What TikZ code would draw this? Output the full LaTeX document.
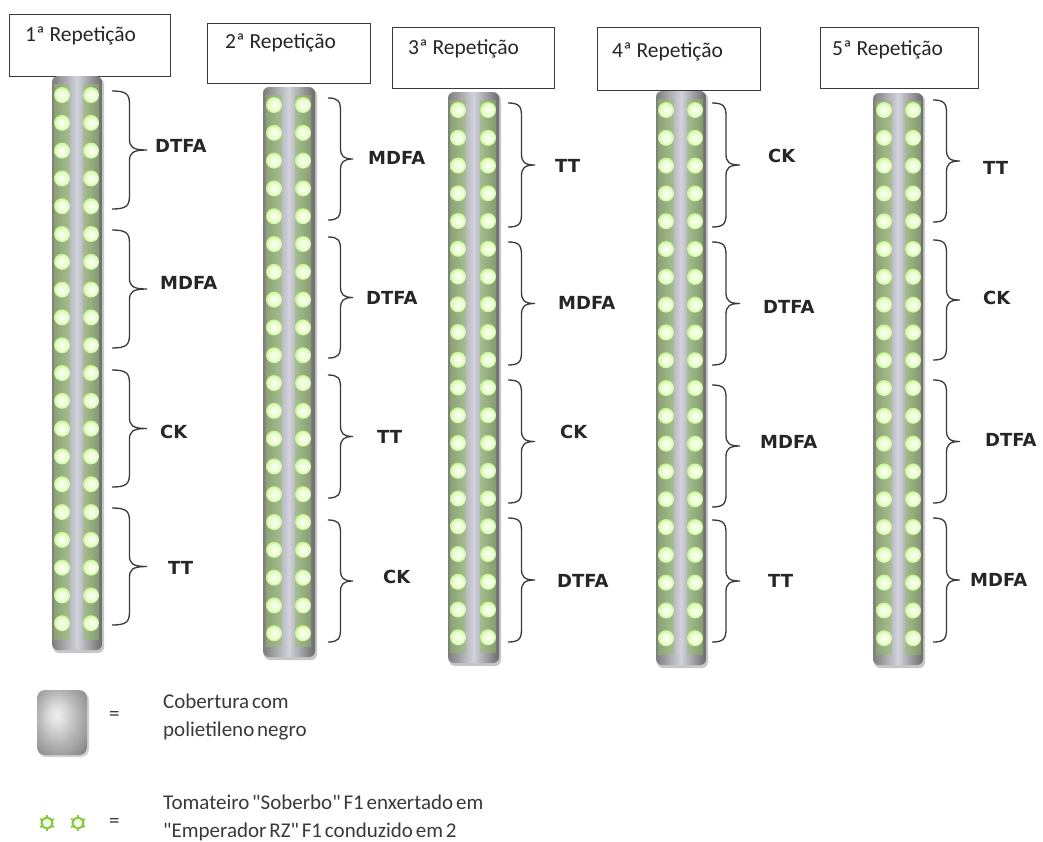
\documentclass[tikz,border=0pt]{standalone}
\usepackage{fontspec}
\setmainfont{Carlito}
\newfontfamily\lblfont{DejaVu Sans}
\newfontfamily\legfont[WordSpace=0.6]{Carlito}
\definecolor{dotA}{HTML}{FBFFF6}
\definecolor{dotB}{HTML}{EAFFD2}
\definecolor{dotC}{HTML}{C0F080}
\definecolor{dotD}{HTML}{96D056}
\definecolor{dotE}{HTML}{8DB872}
\definecolor{bandgreen}{HTML}{92C262}
\definecolor{stripL}{HTML}{7E7E7E}
\definecolor{stripM}{HTML}{D2D2DC}
\definecolor{stripR}{HTML}{6A6A6A}
\definecolor{penc}{HTML}{3A3A3A}
\definecolor{txtc}{HTML}{262626}
\definecolor{legc}{HTML}{3C3838}
\definecolor{iconc}{HTML}{8CC63F}
\pgfdeclareradialshading{plant}{\pgfpoint{0bp}{0bp}}{color(0bp)=(dotA); color(16bp)=(dotB); color(28bp)=(dotC); color(40bp)=(dotD); color(50bp)=(dotE)}
\pgfdeclareradialshading{cover}{\pgfpoint{-6bp}{6bp}}{color(0bp)=(gray!12); color(9bp)=(gray!30); color(20bp)=(gray!58); color(30bp)=(gray!80); color(42bp)=(gray!80!black); color(60bp)=(gray!60!black)}
\tikzset{
  hbox/.style={draw=penc, line width=1.4pt, fill=white, inner sep=0pt, anchor=north west},
  htext/.style={anchor=west, inner sep=0pt, text=txtc, font=\fontsize{21.5}{24}\selectfont},
  lbl/.style={anchor=west, inner sep=0pt, text=txtc, font=\lblfont\bfseries\fontsize{18}{20}\selectfont},
  bracepen/.style={draw=penc, line width=1.3pt},
  legtext/.style={anchor=west, inner sep=0pt, align=left, text=legc, font=\legfont\fontsize{21}{28}\selectfont},
}
% strip: xl, xr, top, bot, dot x1, dot x2, first row, step
\newcommand{\plantstrip}[8]{%
  \fill[black, opacity=0.22, rounded corners=6pt] (#1+1,#3+2) rectangle (#2+2,#4+3);
  \shade[left color=stripL, right color=stripR, middle color=stripM, rounded corners=6pt] (#1,#3) rectangle (#2,#4);
  \fill[bandgreen, opacity=0.5] (#5-8,#3+8) rectangle (#5+8,#4-10);
  \fill[bandgreen, opacity=0.5] (#6-8,#3+8) rectangle (#6+8,#4-10);
  \foreach \ri in {0,...,19}{%
    \shade[shading=plant] (#5,#7+\ri*#8) circle (8);
    \shade[shading=plant] (#6,#7+\ri*#8) circle (8);
  }%
}
% brace: x0, width, ytop, ybot
\newcommand{\cbrace}[4]{%
  \pgfmathsetmacro{\bxa}{#1}%
  \pgfmathsetmacro{\bxm}{#1+0.5*#2}%
  \pgfmathsetmacro{\bxt}{#1+#2}%
  \pgfmathsetmacro{\bym}{(#3+#4)/2}%
  \draw[bracepen] (\bxa,#3) .. controls (\bxa+0.4*#2,#3) and (\bxm,#3+3) .. (\bxm,#3+13)
     -- (\bxm,\bym-11) .. controls (\bxm,\bym-3) and (\bxm+3,\bym) .. (\bxt,\bym)
     .. controls (\bxm+3,\bym) and (\bxm,\bym+3) .. (\bxm,\bym+11)
     -- (\bxm,#4-13) .. controls (\bxm,#4-3) and (\bxa+0.4*#2,#4) .. (\bxa,#4);
}
\begin{document}
\begin{tikzpicture}[x=1pt,y=-1pt]
\useasboundingbox (0,0) rectangle (1043,841);
\fill[white] (0,0) rectangle (1043,841);

% header boxes
\node[hbox, minimum width=161pt, minimum height=62pt] (h1) at (9,14) {};
\node[hbox, minimum width=163pt, minimum height=60pt] (h2) at (207,23) {};
\node[hbox, minimum width=162pt, minimum height=61pt] (h3) at (392,27) {};
\node[hbox, minimum width=163pt, minimum height=63pt] (h4) at (597,27) {};
\node[hbox, minimum width=158pt, minimum height=61pt] (h5) at (820,27) {};
\node[htext] (t1) at (25,36) {1ª Repetição};
\node[htext] (t2) at (225,43) {2ª Repetição};
\node[htext] (t3) at (408,49) {3ª Repetição};
\node[htext] (t4) at (612,52) {4ª Repetição};
\node[htext] (t5) at (832,50) {5ª Repetição};

% strips
\plantstrip{52}{102}{76}{650}{62}{91}{95}{27.8}
\plantstrip{263}{315}{87}{657}{274}{303}{105}{27.8}
\plantstrip{448}{499}{92}{663}{458}{488}{110}{27.75}
\plantstrip{656}{706}{91}{665}{666}{695}{110}{27.8}
\plantstrip{873}{923}{93}{665}{884}{913}{110}{27.8}

% braces column 1
\cbrace{112}{35}{91}{209}
\cbrace{112}{35}{230}{348}
\cbrace{112}{35}{370}{487}
\cbrace{112}{35}{508}{625}
% column 2
\cbrace{328}{25}{98}{220}
\cbrace{328}{25}{237}{358}
\cbrace{328}{25}{375}{498}
\cbrace{328}{25}{520}{642}
% column 3
\cbrace{508}{27}{103}{227}
\cbrace{508}{27}{242}{365}
\cbrace{508}{27}{380}{503}
\cbrace{508}{27}{518}{642}
% column 4
\cbrace{712}{28}{103}{227}
\cbrace{712}{28}{242}{365}
\cbrace{712}{28}{385}{507}
\cbrace{712}{28}{520}{642}
% column 5
\cbrace{933}{27}{100}{222}
\cbrace{933}{27}{240}{360}
\cbrace{933}{27}{380}{503}
\cbrace{933}{27}{518}{642}

% labels
\node[lbl] (l11) at (155,146) {DTFA};
\node[lbl] (l12) at (160,283) {MDFA};
\node[lbl] (l13) at (160,432) {CK};
\node[lbl] (l14) at (168,568) {TT};
\node[lbl] (l21) at (368,158) {MDFA};
\node[lbl] (l22) at (366,298) {DTFA};
\node[lbl] (l23) at (377,437) {TT};
\node[lbl] (l24) at (383,577) {CK};
\node[lbl] (l31) at (555,166) {TT};
\node[lbl] (l32) at (558,303) {MDFA};
\node[lbl] (l33) at (560,432) {CK};
\node[lbl] (l34) at (557,581) {DTFA};
\node[lbl] (l41) at (768,156) {CK};
\node[lbl] (l42) at (763,307) {DTFA};
\node[lbl] (l43) at (760,442) {MDFA};
\node[lbl] (l44) at (768,581) {TT};
\node[lbl] (l51) at (983,168) {TT};
\node[lbl] (l52) at (983,298) {CK};
\node[lbl] (l53) at (985,440) {DTFA};
\node[lbl] (l54) at (970,580) {MDFA};

% legend
\fill[black, opacity=0.18, rounded corners=8pt] (38,692) rectangle (89,757);
\shade[shading=cover, rounded corners=8pt] (37,690) rectangle (87,755);
\node[legtext] (eq1) at (109,716) {=};
\node[legtext] (lg1) at (163,717) {Cobertura com\\polietileno negro};
\foreach \cx in {47,78}{
  \foreach \a in {0,60,...,300}{
    \draw[iconc, line width=1.8pt] (\cx,823) -- ++(\a+30:8);
  }
  \filldraw[draw=iconc, fill=green!8, line width=2pt] (\cx,823) circle (5.5);
}
\node[legtext] (eq2) at (109,823) {=};
\node[legtext] (lg2) at (163,818) {Tomateiro "Soberbo" F1 enxertado em\\"Emperador RZ" F1 conduzido em 2};
\end{tikzpicture}
\end{document}
